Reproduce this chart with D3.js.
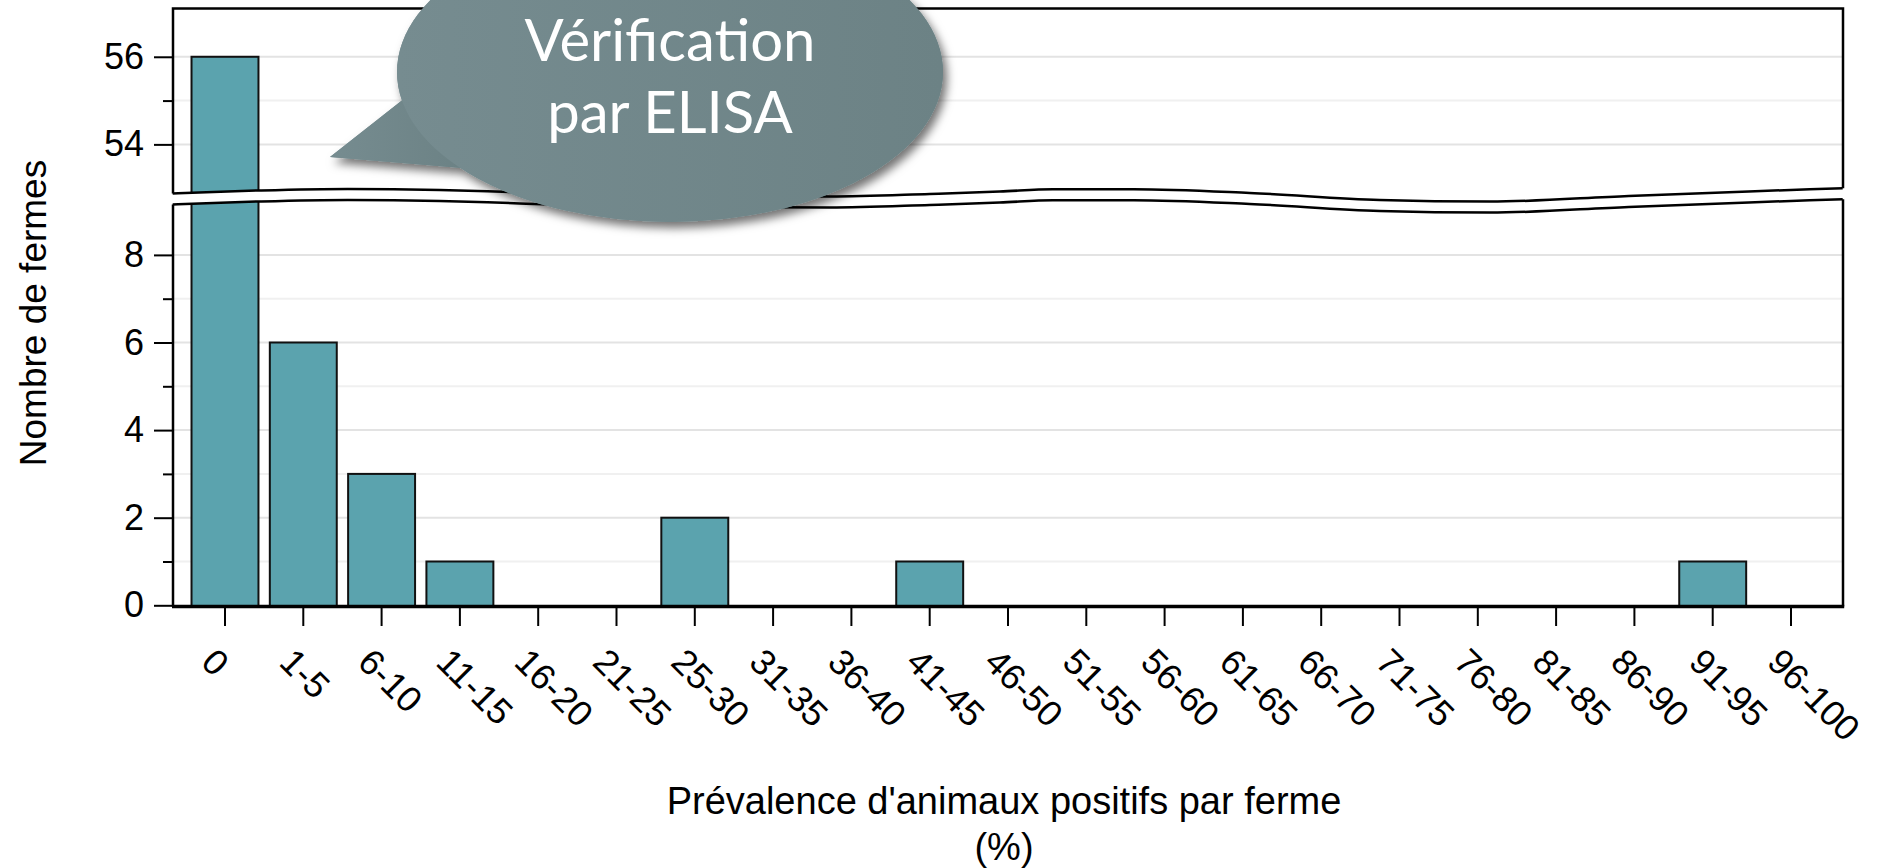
<!DOCTYPE html>
<html><head><meta charset="utf-8">
<script src="https://cdn.jsdelivr.net/npm/d3@7"></script>
<style>
html,body{margin:0;padding:0;background:#fff;}
svg{display:block;}
</style></head><body>
<svg id="chart" width="1878" height="868"></svg>
<script>
// ---------------- data ----------------
const categories = ["0","1-5","6-10","11-15","16-20","21-25","25-30","31-35","36-40","41-45","46-50","51-55","56-60","61-65","66-70","71-75","76-80","81-85","86-90","91-95","96-100"];
const counts = [56,6,3,1,0,0,2,0,0,1,0,0,0,0,0,0,0,0,0,1,0];
const lowerTicks = [0,1,2,3,4,5,6,7,8];
const lowerLabelled = [0,2,4,6,8];
const upperTicks = [54,55,56];
const upperLabelled = [54,56];
const lowerDomain = [0, 9.14];
const upperDomain = [52.9, 57.1];
const yTitle = "Nombre de fermes";
const xTitleLines = ["Prévalence d'animaux positifs par ferme", "(%)"];
const calloutLines = ["Vérification", "par ELISA"];
// axis-break wave: position in category-index units, and lower-axis value of the lower panel's top edge
const breakPos = [-0.668,0.443,1.567,2.742,3.764,5.552,7.723,9.0,9.894,10.571,11.606,13.087,14.747,16.152,17.927,19.46,20.66];
const breakVal = [9.153,9.221,9.256,9.233,9.176,9.096,9.084,9.141,9.194,9.249,9.249,9.164,9.004,8.966,9.096,9.198,9.272];

// ---------------- layout ----------------
const frameL = 173, frameR = 1843;
const unitPx = 43.8;
const y0px = 605.3;
const axisLineY = 606.5;
const breakGap = 11;
const font = "'Liberation Sans', Arial, Helvetica, sans-serif";
const barFill = "#5ba3ae";

const svg = d3.select("#chart");

const x = d3.scaleBand().domain(categories).range([frameL, frameR])
  .paddingInner(0.145).paddingOuter(0.2365);
const yLow = d3.scaleLinear().domain(lowerDomain)
  .range([y0px, y0px - unitPx*(lowerDomain[1]-lowerDomain[0])]);
const upTopPx = 8.6;
const yUp = d3.scaleLinear().domain(upperDomain)
  .range([upTopPx + unitPx*(upperDomain[1]-upperDomain[0]), upTopPx]);
const frameTop = yUp(upperDomain[1]);

const wx = i => x(categories[0]) + x.bandwidth()/2 + i*x.step();
const wave = breakPos.map((p,i)=>({p, v: breakVal[i]}));
const lowWaveY = d => yLow(d.v);
const upWaveY = d => yLow(d.v) - breakGap;

// clip paths
const defs = svg.append("defs");
defs.append("clipPath").attr("id","clipUp").append("path")
  .attr("d", d3.area().x(d=>wx(d.p)).y0(frameTop).y1(upWaveY).curve(d3.curveMonotoneX)(wave));
defs.append("clipPath").attr("id","clipLow").append("path")
  .attr("d", d3.area().x(d=>wx(d.p)).y0(lowWaveY).y1(axisLineY).curve(d3.curveMonotoneX)(wave));

// shadow + gradient for callout
const f = defs.append("filter").attr("id","shadow").attr("x","-20%").attr("y","-20%").attr("width","150%").attr("height","150%");
f.append("feDropShadow").attr("dx",4).attr("dy",6).attr("stdDeviation",5)
  .attr("flood-color","#000").attr("flood-opacity",0.55);
const g1 = defs.append("linearGradient").attr("id","bubbleGrad").attr("x1","0").attr("x2","1").attr("y1","0").attr("y2","0");
g1.append("stop").attr("offset","0%").attr("stop-color","#768c90");
g1.append("stop").attr("offset","100%").attr("stop-color","#6c8285");

// panels
const panels = [
  {scale: yUp, ticks: upperTicks, labelled: upperLabelled, clip: "url(#clipUp)"},
  {scale: yLow, ticks: lowerTicks, labelled: lowerLabelled, clip: "url(#clipLow)"}
];

panels.forEach(pn => {
  const g = svg.append("g").attr("clip-path", pn.clip);
  // gridlines
  g.selectAll("line.grid").data(pn.ticks.filter(t=>t!==0)).join("line")
    .attr("x1", frameL).attr("x2", frameR)
    .attr("y1", d=>pn.scale(d)).attr("y2", d=>pn.scale(d))
    .attr("stroke", d=>pn.labelled.includes(d) ? "#e3e3e3" : "#f0f0f0")
    .attr("stroke-width", 2);
  // bars
  const bars = categories.map((c,i)=>({c, v: counts[i]})).filter(d=>d.v>0);
  g.selectAll("rect.bar").data(bars).join("rect")
    .attr("x", d=>x(d.c)).attr("width", x.bandwidth())
    .attr("y", d=>pn.scale(d.v))
    .attr("height", d=>Math.max(0, yLow(0) - pn.scale(d.v) + 400))
    .attr("fill", barFill).attr("stroke", "#111").attr("stroke-width", 2);
  // y axis ticks
  const major = d3.axisLeft(pn.scale).tickValues(pn.labelled).tickSize(19).tickPadding(10).tickFormat(d3.format("d"));
  const minor = d3.axisLeft(pn.scale).tickValues(pn.ticks.filter(t=>!pn.labelled.includes(t))).tickSize(10).tickFormat("");
  [major, minor].forEach(ax => {
    const ga = svg.append("g").attr("transform", `translate(${frameL},0)`).call(ax);
    ga.select(".domain").remove();
    ga.selectAll(".tick line").attr("stroke","#000").attr("stroke-width",2);
    ga.selectAll(".tick text").attr("font-family", font).attr("font-size", 36).attr("fill","#000");
  });
});

// frame
const up0 = upWaveY(wave[0]), upN = upWaveY(wave[wave.length-1]);
const lo0 = lowWaveY(wave[0]), loN = lowWaveY(wave[wave.length-1]);
svg.append("path")
  .attr("d", `M${frameL},${up0}L${frameL},${frameTop}L${frameR},${frameTop}L${frameR},${upN}`)
  .attr("fill","none").attr("stroke","#000").attr("stroke-width",2.5).attr("stroke-linejoin","miter");
svg.append("path")
  .attr("d", `M${frameL},${lo0}L${frameL},${axisLineY}M${frameR},${loN}L${frameR},${axisLineY}`)
  .attr("fill","none").attr("stroke","#000").attr("stroke-width",2.5);
// break wave lines
const lineUp = d3.line().x(d=>wx(d.p)).y(upWaveY).curve(d3.curveMonotoneX);
const lineLow = d3.line().x(d=>wx(d.p)).y(lowWaveY).curve(d3.curveMonotoneX);
svg.append("path").attr("d", lineUp(wave)).attr("fill","none").attr("stroke","#000").attr("stroke-width",2.5);
svg.append("path").attr("d", lineLow(wave)).attr("fill","none").attr("stroke","#000").attr("stroke-width",2.5);

// x axis
const gx = svg.append("g").attr("transform", `translate(0,${axisLineY})`)
  .call(d3.axisBottom(x).tickSize(19.5).tickSizeOuter(0));
gx.select(".domain").remove();
gx.selectAll(".tick line").attr("stroke","#000").attr("stroke-width",2);
gx.selectAll(".tick text")
  .attr("font-family", font).attr("font-size", 36).attr("fill","#000")
  .attr("x", 0).attr("y", 0).attr("dy", null)
  .attr("text-anchor","start")
  .attr("transform", `translate(-25.5,${664 - axisLineY}) rotate(45)`);
svg.append("line").attr("x1", frameL-1).attr("x2", frameR+1.2)
  .attr("y1", axisLineY).attr("y2", axisLineY)
  .attr("stroke","#000").attr("stroke-width",3.5);

// callout bubble
const cb = {cx: 670, cy: 72, rx: 273, ry: 150};
const tail = "M330,157L405,98L462,168Z";
const bubble = svg.append("g").attr("filter","url(#shadow)");
bubble.append("path").attr("d", tail).attr("fill","url(#bubbleGrad)");
bubble.append("ellipse").attr("cx",cb.cx).attr("cy",cb.cy).attr("rx",cb.rx).attr("ry",cb.ry)
  .attr("fill","url(#bubbleGrad)");
svg.append("path").attr("d", tail).attr("fill","url(#bubbleGrad)");
svg.append("ellipse").attr("cx",cb.cx).attr("cy",cb.cy).attr("rx",cb.rx).attr("ry",cb.ry)
  .attr("fill","url(#bubbleGrad)");
svg.append("g").selectAll("text").data(calloutLines).join("text")
  .attr("x", cb.cx).attr("y", (d,i)=> 61 + i*72)
  .attr("text-anchor","middle").attr("fill","#fff")
  .attr("font-family","Lato, 'Open Sans', sans-serif").attr("font-size",58)
  .text(d=>d);

// titles
svg.append("text").attr("transform","translate(46,313) rotate(-90)")
  .attr("text-anchor","middle").attr("font-family",font).attr("font-size",37).attr("fill","#000")
  .text(yTitle);
svg.append("g").selectAll("text").data(xTitleLines).join("text")
  .attr("x", 1004).attr("y", (d,i)=>814 + i*46)
  .attr("text-anchor","middle").attr("font-family",font).attr("font-size",38).attr("fill","#000")
  .text(d=>d);
</script>
</body></html>
